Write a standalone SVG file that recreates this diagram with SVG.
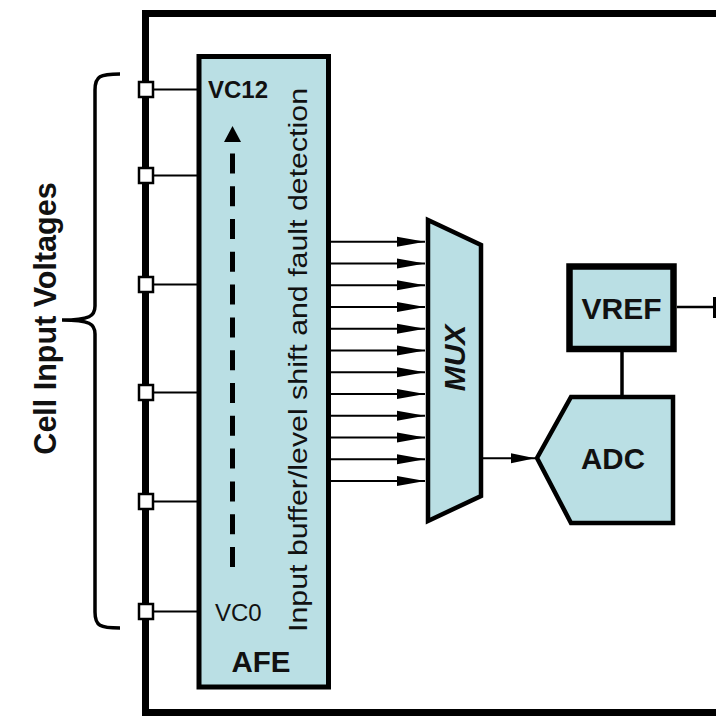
<svg xmlns="http://www.w3.org/2000/svg" width="716" height="719" viewBox="0 0 716 719">
<style>
.blk{fill:#badfe4;stroke:#000;}
.ln{stroke:#000;fill:none;}
.pin{fill:#fff;stroke:#000;stroke-width:2.5;}
.t{font-family:"Liberation Sans",Arial,sans-serif;fill:#111;}
.b{font-weight:bold;}
</style>
<defs>
<marker id="ah" markerUnits="userSpaceOnUse" markerWidth="28" markerHeight="12" refX="28" refY="6" orient="auto">
<path d="M0,1 L28,6 L0,11 z" fill="#000"/>
</marker>
<marker id="ah2" markerUnits="userSpaceOnUse" markerWidth="24" markerHeight="12" refX="24" refY="6" orient="auto">
<path d="M0,1 L24,6 L0,11 z" fill="#000"/>
</marker>
</defs>
<rect width="716" height="719" fill="#fff"/>

<g id="frame">
<path class="ln" d="M716,13.5 H145.5 V712.5 H716" stroke-width="7"/>
</g>

<g id="label-cells">
<path class="ln" stroke-width="3.5" d="M120,74 C100,74 95,76 95,90 L95,306 C95,316 90,320 62,320 C90,320 95,324 95,334 L95,612 C95,626 100,628 120,628"/>
<text class="t b" font-size="30.5" text-anchor="middle" transform="translate(56,318.5) rotate(-90)">Cell Input Voltages</text>
</g>

<g id="afe">
<rect class="blk" x="199" y="56.5" width="129.5" height="630.5" stroke-width="5"/>
<text class="t b" x="208" y="98" font-size="24">VC12</text>
<text class="t" x="215" y="621" font-size="24">VC0</text>
<text class="t b" x="261" y="672" font-size="29.5" text-anchor="middle">AFE</text>
<text class="t" font-size="25" text-anchor="middle" textLength="544" lengthAdjust="spacingAndGlyphs" transform="translate(307,360) rotate(-90)">Input buffer/level shift and fault detection</text>
<path class="ln" d="M232.5,567 V153" stroke-width="5" stroke-dasharray="20 12.8"/>
<path d="M232.5,126 L224,142 L241,142 z" fill="#000"/>
</g>

<g id="pins">
<rect class="pin" x="139" y="82" width="14" height="15"/>
<rect class="pin" x="139" y="168" width="14" height="15"/>
<rect class="pin" x="139" y="277" width="14" height="15"/>
<rect class="pin" x="139" y="385" width="14" height="15"/>
<rect class="pin" x="139" y="494" width="14" height="15"/>
<rect class="pin" x="139" y="604" width="14" height="15"/>
</g>

<g id="mux">
<path class="blk" d="M428,220 L481,245 L481,496 L428,521 z" stroke-width="4.5" stroke-linejoin="miter"/>
<text class="t b" font-size="30" font-style="italic" text-anchor="middle" transform="translate(465,358) rotate(-90)">MUX</text>
</g>

<g id="vref">
<rect class="blk" x="569.5" y="266.5" width="104" height="82.5" stroke-width="6.5"/>
<text class="t b" x="621.5" y="318.5" font-size="30" text-anchor="middle">VREF</text>
</g>

<g id="adc">
<path class="blk" d="M537,458 L571,397 L673,397 L673,523 L571,523 z" stroke-width="4.5"/>
<text class="t b" x="613" y="469" font-size="29.5" text-anchor="middle">ADC</text>
</g>

<g id="connectors" stroke="#000" fill="none" stroke-width="2">
<path d="M153,89.5 H199"/>
<path d="M153,175.5 H199"/>
<path d="M153,284.5 H199"/>
<path d="M153,392.5 H199"/>
<path d="M153,501.5 H199"/>
<path d="M153,611.5 H199"/>
<path d="M331,241.7 H425" marker-end="url(#ah)"/>
<path d="M331,263.5 H425" marker-end="url(#ah)"/>
<path d="M331,285.2 H425" marker-end="url(#ah)"/>
<path d="M331,307 H425" marker-end="url(#ah)"/>
<path d="M331,328.7 H425" marker-end="url(#ah)"/>
<path d="M331,350.5 H425" marker-end="url(#ah)"/>
<path d="M331,372.2 H425" marker-end="url(#ah)"/>
<path d="M331,394 H425" marker-end="url(#ah)"/>
<path d="M331,415.7 H425" marker-end="url(#ah)"/>
<path d="M331,437.5 H425" marker-end="url(#ah)"/>
<path d="M331,459.2 H425" marker-end="url(#ah)"/>
<path d="M331,481 H425" marker-end="url(#ah)"/>
<path d="M483,458.3 H535" marker-end="url(#ah2)"/>
<path d="M622,352 V395" stroke-width="3.5"/>
<path d="M677,307 H714" stroke-width="2.5"/>
<path d="M714.5,297 V318" stroke-width="3"/>
</g>
</svg>
